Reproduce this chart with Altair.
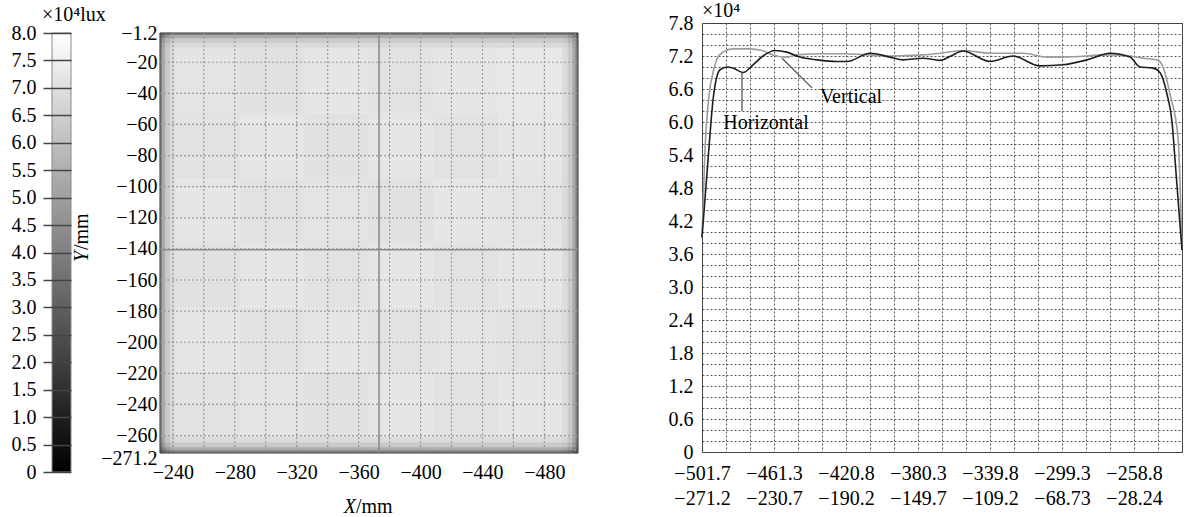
import json
import altair as alt
import pandas as pd

M = "\u2212"
FONT = "Liberation Serif"

# ---------------- left: illuminance map (x10^4 lux) ----------------
x_edges = [-231.7, -233.2, -235.2, -238.2, -241.7, -283.4, -325.0, -366.7,
           -408.4, -450.0, -491.7, -495.2, -498.2, -500.2, -501.7]
y_edges = [-1.2, -2.7, -4.7, -7.7, -11.2, -52.9, -94.5, -136.2,
           -177.9, -219.5, -261.2, -264.7, -267.7, -269.7, -271.2]
illum = [
    [2.45, 3.27, 3.79, 4.08, 4.20, 4.20, 4.20, 4.20, 4.20, 4.20, 4.08, 3.79, 3.27, 2.45],
    [3.27, 4.36, 5.06, 5.44, 5.60, 5.60, 5.60, 5.60, 5.60, 5.60, 5.44, 5.06, 4.36, 3.27],
    [3.79, 5.06, 5.87, 6.32, 6.50, 6.50, 6.50, 6.50, 6.50, 6.50, 6.32, 5.87, 5.06, 3.79],
    [4.08, 5.44, 6.32, 6.81, 7.00, 7.00, 7.00, 7.00, 7.00, 7.00, 6.81, 6.32, 5.44, 4.08],
    [4.20, 5.60, 6.50, 7.00, 7.25, 7.15, 7.30, 7.20, 7.30, 7.35, 7.00, 6.50, 5.60, 4.20],
    [4.20, 5.60, 6.50, 7.00, 7.20, 7.30, 7.15, 7.30, 7.20, 7.30, 7.00, 6.50, 5.60, 4.20],
    [4.20, 5.60, 6.50, 7.00, 7.30, 7.20, 7.25, 7.15, 7.30, 7.25, 7.00, 6.50, 5.60, 4.20],
    [4.20, 5.60, 6.50, 7.00, 7.15, 7.30, 7.20, 7.30, 7.20, 7.30, 7.00, 6.50, 5.60, 4.20],
    [4.20, 5.60, 6.50, 7.00, 7.30, 7.20, 7.30, 7.20, 7.25, 7.20, 7.00, 6.50, 5.60, 4.20],
    [4.20, 5.60, 6.50, 7.00, 7.20, 7.25, 7.15, 7.30, 7.20, 7.30, 7.00, 6.50, 5.60, 4.20],
    [4.08, 5.44, 6.32, 6.81, 7.00, 7.00, 7.00, 7.00, 7.00, 7.00, 6.81, 6.32, 5.44, 4.08],
    [3.79, 5.06, 5.87, 6.32, 6.50, 6.50, 6.50, 6.50, 6.50, 6.50, 6.32, 5.87, 5.06, 3.79],
    [3.27, 4.36, 5.06, 5.44, 5.60, 5.60, 5.60, 5.60, 5.60, 5.60, 5.44, 5.06, 4.36, 3.27],
    [2.45, 3.27, 3.79, 4.08, 4.20, 4.20, 4.20, 4.20, 4.20, 4.20, 4.08, 3.79, 3.27, 2.45],
]
heat_x_labels = [-240, -280, -320, -360, -400, -440, -480]
heat_grid_x = [-240, -260, -280, -300, -320, -340, -360, -380, -400, -420, -440, -460, -480, -500]
heat_y_labels = [-1.2, -20, -40, -60, -80, -100, -120, -140, -160, -180, -200, -220, -240, -260, -271.2]
heat_grid_y = [-20, -40, -60, -80, -100, -120, -140, -160, -180, -200, -220, -240, -260]
cross_x = -373.2
cross_y = -140.5

cbar_lo, cbar_hi = 0, 8
cbar_ticks = [0, 0.5, 1.0, 1.5, 2.0, 2.5, 3.0, 3.5, 4.0, 4.5, 5.0, 5.5, 6.0, 6.5, 7.0, 7.5, 8.0]

# ---------------- right: profiles (x10^4 lux) ----------------
t_h = [0, 3.6, 6.2, 10.1, 14.1, 17.4, 23.1, 28.7, 34.3, 41.0, 47.8, 55.1, 64.7, 75.9, 81.6,
       94.5, 105.8, 113.1, 124.3, 133.9, 140.0, 146.8, 162.0, 174.9, 190.1, 203.1, 216.6,
       229.5, 240.8, 246.4, 253.7, 257.6, 261.6, 264.4, 266.1, 270]
v_h = [3.9, 5.4, 6.4, 6.95, 7.0, 6.98, 6.9, 7.04, 7.2, 7.3, 7.27, 7.18, 7.13, 7.1, 7.1,
       7.25, 7.18, 7.13, 7.16, 7.12, 7.2, 7.29, 7.1, 7.2, 7.02, 7.04, 7.13,
       7.25, 7.18, 7.0, 6.98, 6.9, 6.5, 6.0, 5.3, 3.67]
t_v = [0, 1.7, 4.0, 6.2, 8.5, 11.8, 17.4, 27.0, 33.7, 39.9, 47.8, 53.4, 68.0, 77.6, 94.5,
       105.8, 124.3, 134.0, 146.8, 162.0, 180.6, 194.1, 203.1, 229.5, 240.8, 248.1, 256.0,
       259.3, 263.3, 267.8, 270]
v_v = [3.9, 5.5, 6.5, 6.9, 7.15, 7.27, 7.33, 7.33, 7.3, 7.22, 7.18, 7.22, 7.24, 7.24, 7.22,
       7.2, 7.22, 7.25, 7.3, 7.25, 7.25, 7.18, 7.18, 7.22, 7.2, 7.16, 7.13,
       7.0, 6.5, 5.7, 3.67]
series_names = ["Horizontal", "Vertical"]
series_colors = ["#1e1e1e", "#9c9c9c"]

ann_labels = ["Horizontal", "Vertical"]
ann_t = [36.0, 83.8]
ann_v = [5.98, 6.45]
lead_t1 = [22.5, 45.0]
lead_v1 = [6.9, 7.16]
lead_t2 = [22.5, 61.9]
lead_v2 = [6.2, 6.62]

h_labels = [M + s for s in ["501.7", "461.3", "420.8", "380.3", "339.8", "299.3", "258.8"]]
v_labels = [M + s for s in ["271.2", "230.7", "190.2", "149.7", "109.2", "68.73", "28.24"]]
c_x_ticks = [round(13.5 * k, 2) for k in range(21)]
c_y_ticks = [round(0.2 * k, 1) for k in range(40)]

# ---------------- build tables ----------------
rows = []
for i in range(len(y_edges) - 1):
    for j in range(len(x_edges) - 1):
        rows.append({"x0": x_edges[j], "x1": x_edges[j + 1],
                     "y0": y_edges[i], "y1": y_edges[i + 1], "v": illum[i][j]})
heat_df = pd.DataFrame(rows)

gray = alt.Scale(domain=[0, 8], range=["#000000", "#ffffff"])
xs = alt.Scale(domain=[x_edges[-1], x_edges[0]], reverse=True, nice=False, zero=False)
ys = alt.Scale(domain=[y_edges[-1], y_edges[0]], range=[430, 10], nice=False, zero=False)

rects = alt.Chart(heat_df).mark_rect(strokeWidth=0.6).encode(
    x=alt.X("x0:Q", scale=xs, axis=alt.Axis(
        orient="bottom", values=heat_x_labels, format="d", tickCount=100,
        ticks=False, domain=False, grid=False, labelPadding=9, labelFlush=False,
        labelOverlap=False, title=None)),
    x2="x1:Q",
    y=alt.Y("y0:Q", scale=ys, axis=alt.Axis(
        orient="left", values=heat_y_labels, format=".1~f", tickCount=100, ticks=False,
        domain=False, grid=False, labelPadding=3, labelOverlap=False, labelFlush=False,
        labelOffset={"condition": {"test": "datum.value < -265", "value": 5}, "value": 0},
        title=None)),
    y2="y1:Q",
    color=alt.Color("v:Q", scale=gray, legend=None),
    stroke=alt.Stroke("v:Q", scale=gray, legend=None),
)

gv = alt.Chart(pd.DataFrame({"gx": heat_grid_x})).mark_rule(
    color="#9a9a9a", strokeDash=[2, 2], strokeWidth=1.2).encode(
    x="gx:Q", y=alt.datum(y_edges[0]), y2=alt.datum(y_edges[-1]))
gh = alt.Chart(pd.DataFrame({"gy": heat_grid_y})).mark_rule(
    color="#9a9a9a", strokeDash=[2, 2], strokeWidth=1.2).encode(
    y="gy:Q", x=alt.datum(x_edges[0]), x2=alt.datum(x_edges[-1]))
cv = alt.Chart(pd.DataFrame({"cx": [cross_x]})).mark_rule(color="#8c8c8c", strokeWidth=1.6).encode(
    x="cx:Q", y=alt.datum(y_edges[0]), y2=alt.datum(y_edges[-1]))
ch = alt.Chart(pd.DataFrame({"cy": [cross_y]})).mark_rule(color="#8c8c8c", strokeWidth=1.6).encode(
    y="cy:Q", x=alt.datum(x_edges[0]), x2=alt.datum(x_edges[-1]))
frame = alt.Chart(pd.DataFrame({"k": [0]})).mark_rect(
    fillOpacity=0, stroke="#555555", strokeWidth=1).encode(
    x=alt.datum(x_edges[0]), x2=alt.datum(x_edges[-1]),
    y=alt.datum(y_edges[0]), y2=alt.datum(y_edges[-1]))

txt = pd.DataFrame({"k": [0]})
unit_lux = alt.Chart(txt).mark_text(align="left", baseline="middle", fontSize=20).encode(
    x=alt.value(-118), y=alt.value(-8), text=alt.value("\u00d710\u2074lux"))
xlab1 = alt.Chart(txt).mark_text(align="right", baseline="middle", fontSize=20, fontStyle="italic").encode(
    x=alt.value(196), y=alt.value(484), text=alt.value("X"))
xlab2 = alt.Chart(txt).mark_text(align="left", baseline="middle", fontSize=20).encode(
    x=alt.value(196), y=alt.value(484), text=alt.value("/mm"))
ylab1 = alt.Chart(txt).mark_text(align="left", baseline="middle", angle=270, fontSize=20, fontStyle="italic").encode(
    x=alt.value(-78), y=alt.value(239), text=alt.value("Y"))
ylab2 = alt.Chart(txt).mark_text(align="left", baseline="middle", angle=270, fontSize=20).encode(
    x=alt.value(-78), y=alt.value(227), text=alt.value("/mm"))

heat_group = alt.layer(rects, gv, gh, cv, ch, frame, unit_lux, xlab1, xlab2, ylab1, ylab2)

grad = alt.LinearGradient(
    gradient="linear",
    stops=[alt.GradientStop(color="#000000", offset=0), alt.GradientStop(color="#ffffff", offset=1)],
    x1=0, x2=0, y1=1, y2=0)
cbar = alt.Chart(pd.DataFrame({"lo": [cbar_lo], "hi": [cbar_hi]})).mark_rect(
    fill=grad, stroke="#8a8a8a", strokeWidth=1).encode(
    x=alt.value(-108), x2=alt.value(-89),
    y=alt.Y("lo:Q", scale=alt.Scale(domain=[cbar_lo, cbar_hi], range=[449, 10], nice=False, zero=False),
            axis=alt.Axis(orient="left", offset=89, values=cbar_ticks, tickCount=100,
                          labelExpr="datum.value == 0 ? '0' : format(datum.value, '.1f')",
                          tickSize=28, tickColor="#444444", tickWidth=1.5, domain=False, grid=False,
                          labelPadding=7, zindex=1, title=None, labelOverlap=False, labelFlush=False)),
    y2="hi:Q",
)

left = alt.layer(heat_group, cbar).resolve_scale(y="independent").properties(
    width=418, height=430, view=alt.ViewBackground(stroke="transparent"))

# ---------------- right chart ----------------
line_df = pd.concat([
    pd.DataFrame({"t": t_v, "v": v_v, "s": series_names[1]}),
    pd.DataFrame({"t": t_h, "v": v_h, "s": series_names[0]}),
])
pairs = [[a, b] for a, b in zip(h_labels, v_labels)]
x_expr = ("(round(datum.value/13.5) % 3 == 0 && datum.value < 260) ? "
          + json.dumps(pairs, ensure_ascii=False) + "[round(datum.value/40.5)] : ''")
y_expr = "(round(datum.value*10) % 6 == 0) ? (datum.value == 0 ? '0' : format(datum.value, '.1f')) : ''"

cx = alt.Scale(domain=[0, 270], nice=False, zero=False)
cy = alt.Scale(domain=[0, 7.8], nice=False, zero=False)

lines = alt.Chart(line_df).mark_line(strokeWidth=1.6, interpolate="monotone").encode(
    x=alt.X("t:Q", scale=cx, axis=alt.Axis(
        values=c_x_ticks, tickCount=100, labelExpr=x_expr, grid=True, gridDash=[2, 2],
        gridColor="#555555", gridWidth=1, ticks=False, domain=False, labelFlush=False,
        labelOverlap=False, labelPadding=11, labelLineHeight=25, title=None)),
    y=alt.Y("v:Q", scale=cy, axis=alt.Axis(
        values=c_y_ticks, tickCount=100, labelExpr=y_expr, grid=True, gridDash=[2, 2],
        gridColor="#555555", gridWidth=1, ticks=False, domain=False, labelFlush=False,
        labelOverlap=False, labelPadding=9, title=None)),
    color=alt.Color("s:N", scale=alt.Scale(domain=series_names, range=series_colors), legend=None),
    detail="s:N",
)
ann_df = pd.DataFrame({"t": ann_t, "v": ann_v, "label": ann_labels})
lead_df = pd.DataFrame({"t": lead_t1, "v": lead_v1, "t2": lead_t2, "v2": lead_v2})
leaders = alt.Chart(lead_df).mark_rule(color="#555555", strokeWidth=1.3).encode(
    x="t:Q", y="v:Q", x2="t2:Q", y2="v2:Q")
ann = alt.Chart(ann_df).mark_text(fontSize=20, baseline="middle", align="center").encode(
    x="t:Q", y="v:Q", text="label:N")
unit4 = alt.Chart(txt).mark_text(align="left", baseline="middle", fontSize=20).encode(
    x=alt.value(0), y=alt.value(-12), text=alt.value("\u00d710\u2074"))

right = alt.layer(lines, leaders, ann, unit4).properties(
    width=480, height=429, view=alt.ViewBackground(stroke="#333333", strokeWidth=1))

chart = alt.hconcat(left, right, spacing=124, bounds="flush").properties(
    padding={"left": 10, "top": 0, "right": 0, "bottom": 0},
    background="white",
).configure_axis(
    labelFont=FONT, labelFontSize=20, labelColor="black",
).configure_text(font=FONT, fontSize=20, color="black")

chart.save("out.html", embed_options={"renderer": "svg", "actions": False})
